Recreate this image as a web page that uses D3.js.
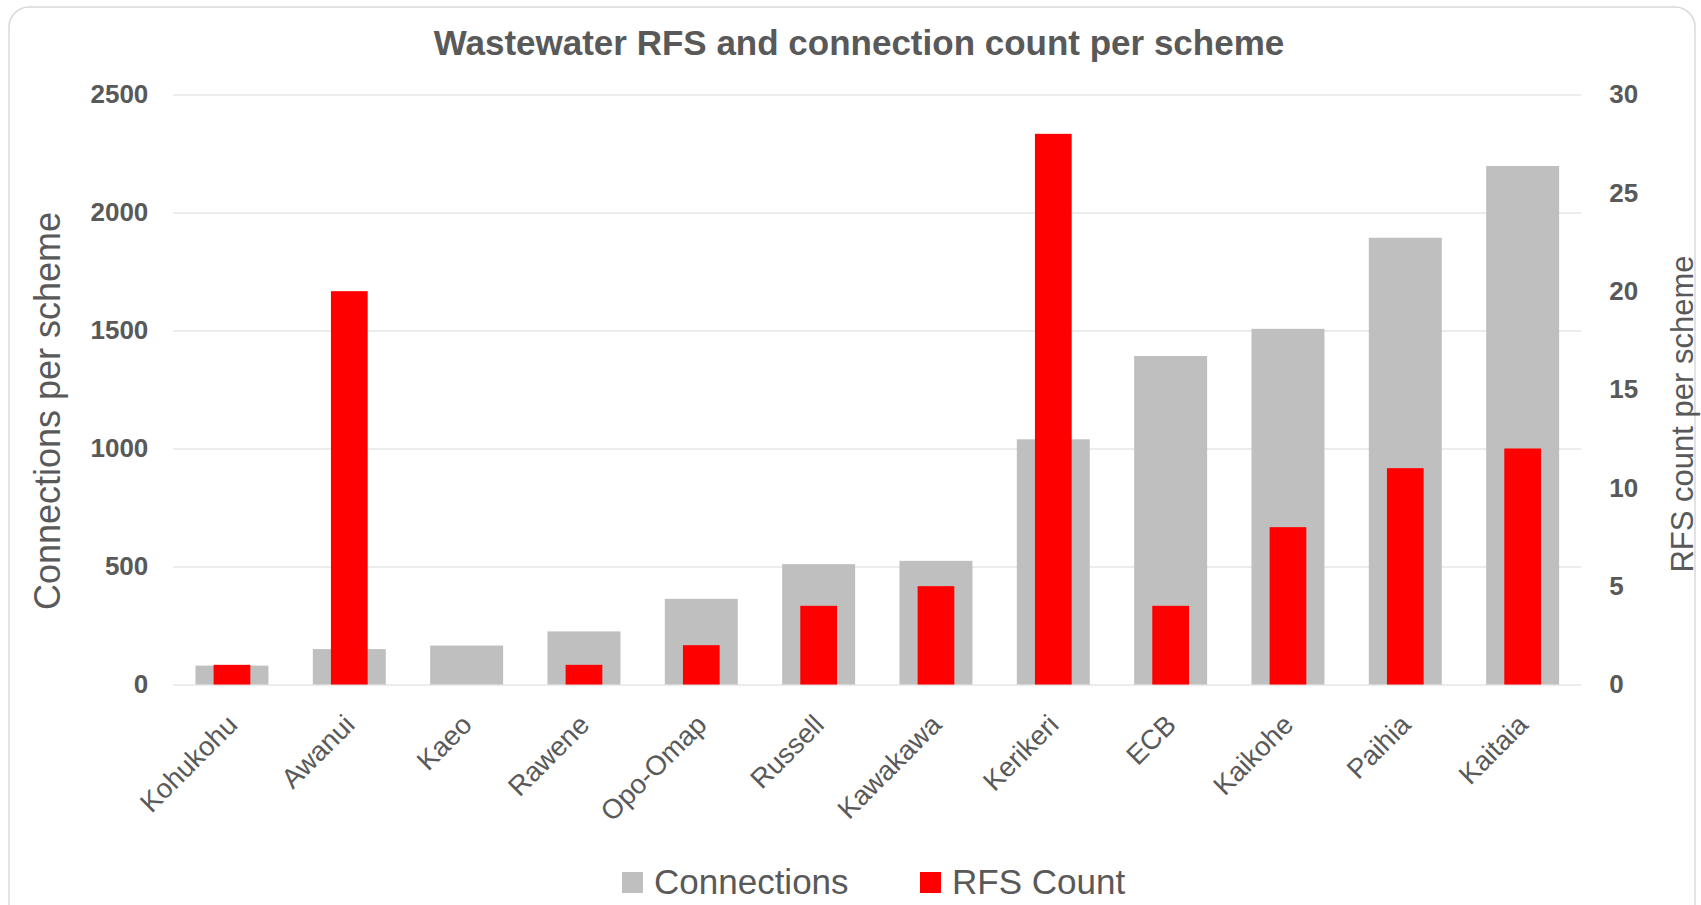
<!DOCTYPE html>
<html>
<head>
<meta charset="utf-8">
<script src="https://cdn.jsdelivr.net/npm/d3@7"></script>
<style>
  body { margin: 0; background: #fff; }
  svg { display: block; font-family: "Liberation Sans", Arial, sans-serif; }
  .tick-label { font-weight: bold; font-size: 26px; fill: #595959; }
</style>
</head>
<body>
<div id="chart"></div>
<script>
(function() {

var schemes = ["Kohukohu", "Awanui", "Kaeo", "Rawene", "Opo-Omap", "Russell",
               "Kawakawa", "Kerikeri", "ECB", "Kaikohe", "Paihia", "Kaitaia"];
var connections = [80, 150, 165, 225, 363, 510, 524, 1039, 1392, 1507, 1893, 2197];
var rfsCount = [1, 20, 0, 1, 2, 4, 5, 28, 4, 8, 11, 12];
var leftTicks = [0, 500, 1000, 1500, 2000, 2500];
var rightTicks = [0, 5, 10, 15, 20, 25, 30];
var seriesNames = ["Connections", "RFS Count"];

var width = 1701,
    height = 905,
    plot = {left: 173.3, right: 1581.3, top: 94.5, bottom: 684.5};

var grey = "#bfbfbf", red = "#ff0000", textColor = "#595959";

var x = d3.scaleBand()
    .domain(schemes)
    .range([plot.left, plot.right]);

var yLeft = d3.scaleLinear()
    .domain([0, 2500])
    .range([plot.bottom, plot.top]);

var yRight = d3.scaleLinear()
    .domain([0, 30])
    .range([plot.bottom, plot.top]);

var svg = d3.select("#chart").append("svg")
    .attr("width", width)
    .attr("height", height);

// card border
svg.append("rect")
    .attr("x", 9)
    .attr("y", 7)
    .attr("width", 1686)
    .attr("height", 930)
    .attr("rx", 20)
    .style("fill", "#fff")
    .style("stroke", "#d9d9d9")
    .style("stroke-width", 1.5);

svg.append("text")
    .attr("x", 859)
    .attr("y", 55)
    .attr("text-anchor", "middle")
    .style("font-size", "35px")
    .style("font-weight", "bold")
    .style("fill", textColor)
    .text("Wastewater RFS and connection count per scheme");

// gridlines
svg.append("g")
    .selectAll("line")
    .data(leftTicks)
  .enter().append("line")
    .attr("x1", plot.left)
    .attr("x2", plot.right)
    .attr("y1", function(d) { return yLeft(d) + 0.5; })
    .attr("y2", function(d) { return yLeft(d) + 0.5; })
    .style("stroke", "#d9d9d9")
    .style("stroke-width", 1);

var leftAxis = svg.append("g")
    .attr("transform", "translate(" + plot.left + ",0)")
    .call(d3.axisLeft(yLeft).tickValues(leftTicks).tickFormat(d3.format("d")).tickSize(0).tickPadding(25));
leftAxis.select(".domain").remove();
leftAxis.selectAll("text").attr("class", "tick-label");

var rightAxis = svg.append("g")
    .attr("transform", "translate(" + plot.right + ",0)")
    .call(d3.axisRight(yRight).tickValues(rightTicks).tickFormat(d3.format("d")).tickSize(0).tickPadding(28));
rightAxis.select(".domain").remove();
rightAxis.selectAll("text").attr("class", "tick-label");

svg.selectAll(".conn")
    .data(connections)
  .enter().append("rect")
    .attr("class", "conn")
    .attr("x", function(d, i) { return x(schemes[i]) + x.bandwidth() * 0.189; })
    .attr("width", x.bandwidth() * 0.622)
    .attr("y", function(d) { return yLeft(d); })
    .attr("height", function(d) { return yLeft(0) - yLeft(d); })
    .style("fill", grey);

svg.selectAll(".rfs")
    .data(rfsCount)
  .enter().append("rect")
    .attr("class", "rfs")
    .attr("x", function(d, i) { return x(schemes[i]) + x.bandwidth() * 0.3435; })
    .attr("width", x.bandwidth() * 0.313)
    .attr("y", function(d) { return yRight(d); })
    .attr("height", function(d) { return yRight(0) - yRight(d); })
    .style("fill", red);

// category labels at -45deg
svg.append("g")
    .selectAll("text")
    .data(schemes)
  .enter().append("text")
    .attr("transform", function(d) {
      return "translate(" + (x(d) + x.bandwidth() / 2 + 7) + "," + (plot.bottom + 42) + ") rotate(-45)";
    })
    .attr("text-anchor", "end")
    .style("font-size", "27.5px")
    .style("fill", textColor)
    .text(function(d) { return d; });

svg.append("text")
    .attr("transform", "translate(60,411) rotate(-90)")
    .attr("text-anchor", "middle")
    .style("font-size", "36px")
    .style("fill", textColor)
    .text("Connections per scheme");

svg.append("text")
    .attr("transform", "translate(1693,414) rotate(-90)")
    .attr("text-anchor", "middle")
    .style("font-size", "31px")
    .style("fill", textColor)
    .text("RFS count per scheme");

// legend
var legendX = [622, 920];
var legend = svg.selectAll(".legend")
    .data(seriesNames)
  .enter().append("g")
    .attr("class", "legend")
    .attr("transform", function(d, i) { return "translate(" + legendX[i] + ",872)"; });

legend.append("rect")
    .attr("width", 21)
    .attr("height", 21)
    .style("fill", function(d, i) { return i === 0 ? grey : red; });

legend.append("text")
    .attr("x", 32)
    .attr("y", 22)
    .style("font-size", "35px")
    .style("fill", textColor)
    .text(function(d) { return d; });

})()
</script>
</body>
</html>
